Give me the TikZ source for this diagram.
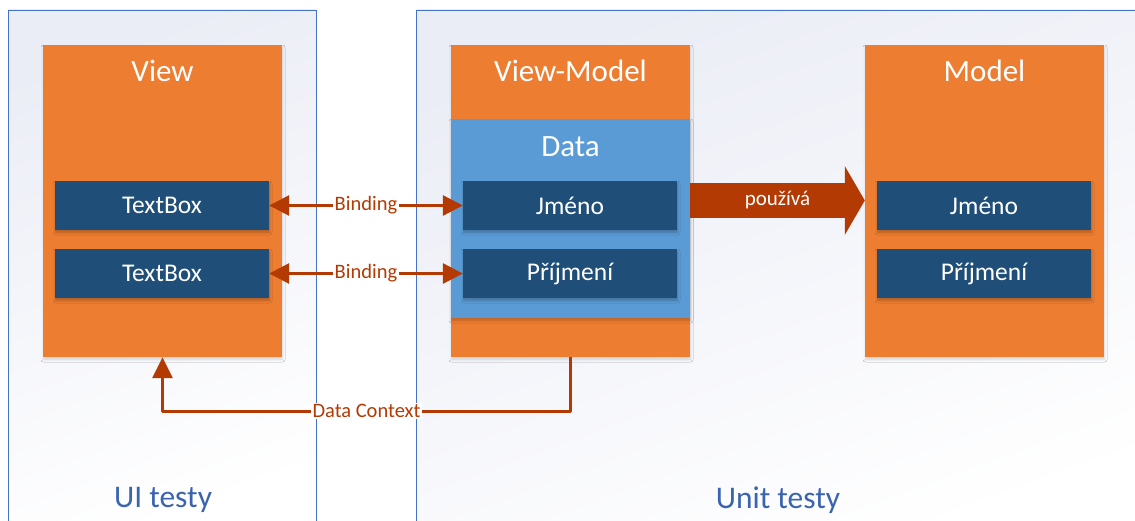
\documentclass[tikz,border=0pt]{standalone}
\usepackage{fontspec}
\setmainfont{Carlito}
\usetikzlibrary{arrows.meta,shadows.blur}

\definecolor{boxorange}{HTML}{ED7D31}
\definecolor{databl}{HTML}{5B9BD5}
\definecolor{itemnavy}{HTML}{1F4E79}
\definecolor{linkred}{HTML}{B43A03}
\definecolor{frameblue}{HTML}{4472C4}
\definecolor{zonefill}{HTML}{EBEDF6}
\definecolor{zonetext}{HTML}{3A63B0}

\tikzset{
  softshadow/.style={blur shadow={shadow xshift=0.5pt, shadow yshift=-2.5pt, shadow blur radius=2.5pt,
    shadow blur steps=6, shadow opacity=#1}},
  zone/.style={draw=frameblue, line width=0.8pt, top color=zonefill, bottom color=white, shading angle=20},
  layerbox/.style={fill=boxorange, minimum width=239pt, minimum height=312pt, inner sep=0pt, softshadow=15},
  databox/.style={fill=databl, minimum width=239pt, minimum height=199pt, inner sep=0pt, softshadow=20},
  item/.style={fill=itemnavy, text=white, minimum width=214pt, minimum height=49pt, inner sep=0pt,
    font=\fontsize{25.5}{27}\selectfont, softshadow=25},
  title/.style={text=white, font=\fontsize{31}{33}\selectfont, inner sep=0pt},
  zonetitle/.style={text=zonetext, font=\fontsize{31.5}{33}\selectfont, inner sep=0pt},
  link/.style={draw=linkred, line width=3pt},
  bind/.style={link, {Triangle[length=20pt,width=20pt]}-{Triangle[length=20pt,width=20pt]}},
  linklabel/.style={fill=white, text=linkred, inner sep=1.5pt, font=\fontsize{20.5}{22}\selectfont},
  uses/.style={draw=linkred, line width=35pt, -{Triangle[length=20pt,width=68pt]}},
}

\begin{document}
\begin{tikzpicture}[x=1pt, y=-1pt]
  \useasboundingbox (0,0) rectangle (1135,521);
  \clip (0,0) rectangle (1135,521);

  % test zones
  \path[zone] (8,10) rectangle (316,540);
  \path[zone] (416,10) rectangle (1160,540);
  \node[zonetitle] (uit) at (163,500) {UI testy};
  \node[zonetitle] (unt) at (778,500) {Unit testy};

  % layers
  \node[layerbox] (view)  at (162.5,201) {};
  \node[layerbox] (vm)    at (570.5,201) {};
  \node[layerbox] (model) at (984.5,201) {};
  \node[databox]  (data)  at (570.5,218.5) {};

  \node[title] (tview)  at (162.5,71)  {View};
  \node[title] (tvm)    at (570.5,71)  {View-Model};
  \node[title] (tmodel) at (984.5,71)  {Model};
  \node[title] (tdata)  at (570.5,147) {Data};

  % fields
  \node[item] (tb1) at (162,205.5) {TextBox};
  \node[item] (tb2) at (162,273.5) {TextBox};
  \node[item] (vj)  at (570,205.5) {Jméno};
  \node[item] (vp)  at (570,273.5) {Příjmení};
  \node[item] (mj)  at (984,205.5) {Jméno};
  \node[item] (mp)  at (984,273.5) {Příjmení};

  % bindings
  \draw[bind] (tb1.east) -- node[linklabel] {Binding} (vj.west);
  \draw[bind] (tb2.east) -- node[linklabel] {Binding} (vp.west);

  % view-model uses model
  \coordinate (usesA) at (vm.east |- 0,200.5);
  \coordinate (usesB) at (model.west |- 0,200.5);
  \draw[uses] (usesA) -- node[text=white, font=\fontsize{21}{23}\selectfont] {používá} (usesB);

  % data context
  \draw[link, line join=round, -{Triangle[length=21pt,width=20pt]}]
    (vm.south) -- ++(0,54) -| node[pos=0.25, linklabel] {Data Context} (view.south);
\end{tikzpicture}
\end{document}
